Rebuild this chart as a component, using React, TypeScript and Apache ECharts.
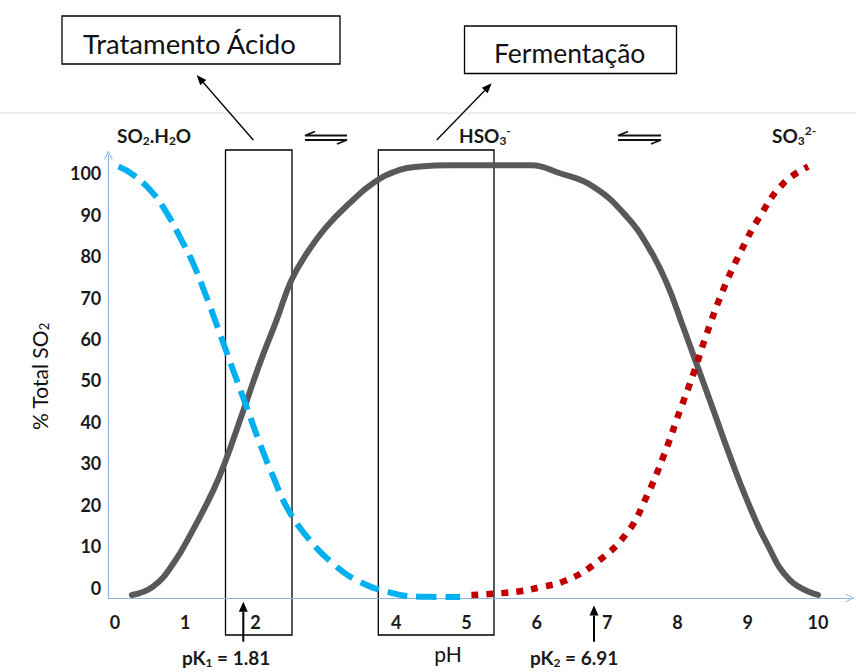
import React, { useEffect, useRef } from "react";
import * as echarts from "echarts";

// Tick labels (the "3" label is absent in the reference)
const xTickValues = [0, 1, 2, 4, 5, 6, 7, 8, 9, 10];
const yTickValues = [0, 10, 20, 30, 40, 50, 60, 70, 80, 90, 100];

// pH vs % of total SO2
const so2H2O: [number, number][] = [
  [0.05, 101.6], [0.26, 99.6], [0.54, 95.2], [0.74, 90.3], [0.92, 84.7],
  [1.11, 78.3], [1.3, 70.2], [1.49, 61.4], [1.68, 52.5], [1.87, 43.7],
  [2.06, 34.8], [2.25, 26.8], [2.44, 19.5], [2.73, 12.3], [3.1, 5.8],
  [3.48, 1.4], [3.96, -1.4], [4.34, -2.2], [4.91, -2.3],
];

const hso3: [number, number][] = [
  [0.24, -1.8], [0.54, 0.2], [0.83, 5.8], [1.11, 13.9], [1.4, 23.5],
  [1.56, 30.0], [1.83, 42.9], [2.06, 54.1], [2.3, 64.6], [2.51, 74.2],
  [2.73, 80.7], [3.01, 87.1], [3.34, 92.8], [3.67, 97.6], [4.05, 100.8],
  [4.34, 101.6], [4.77, 101.9], [5.9, 101.9], [6.33, 100.0], [6.8, 96.8],
  [7.28, 89.5], [7.61, 81.5], [7.85, 73.4], [8.08, 63.0], [8.27, 54.1],
  [8.51, 42.9], [8.75, 31.6], [8.99, 21.1], [9.27, 10.7], [9.6, 1.8],
  [10.0, -1.8],
];

const so3: [number, number][] = [
  [5.07, -1.8], [5.71, -1.0], [6.09, 0.2], [6.4, 1.6], [6.8, 5.4],
  [7.28, 13.1], [7.56, 21.9], [7.8, 31.6], [8.04, 42.9], [8.23, 51.7],
  [8.42, 61.4], [8.65, 71.8], [8.89, 80.7], [9.17, 89.5], [9.51, 97.6],
  [9.86, 101.6],
];

const FONT = "Lato, 'Open Sans', sans-serif";

const subRich = {
  n: { fontSize: 19, fontWeight: "bold", fontFamily: FONT, fill: "#1a1a1a", color: "#1a1a1a", lineHeight: 20, verticalAlign: "middle" },
  s: { fontSize: 12, fontWeight: "bold", fontFamily: FONT, fill: "#1a1a1a", color: "#1a1a1a", lineHeight: 12, padding: [10, 0, 0, 0], verticalAlign: "middle" },
  u: { fontSize: 12, fontWeight: "bold", fontFamily: FONT, fill: "#1a1a1a", color: "#1a1a1a", lineHeight: 12, padding: [0, 0, 10, 0], verticalAlign: "middle" },
};

function arrowHead(tip: [number, number], tail: [number, number], len: number, half: number) {
  const dx = tip[0] - tail[0];
  const dy = tip[1] - tail[1];
  const L = Math.hypot(dx, dy);
  const ux = dx / L, uy = dy / L;
  const bx = tip[0] - len * ux, by = tip[1] - len * uy;
  const nx = -uy, ny = ux;
  return {
    base: [bx, by] as [number, number],
    pts: [tip, [bx + half * nx, by + half * ny], [bx - half * nx, by - half * ny]],
  };
}

function arrow(tail: [number, number], tip: [number, number], width: number, len: number, half: number) {
  const h = arrowHead(tip, tail, len, half);
  return [
    { type: "line", shape: { x1: tail[0], y1: tail[1], x2: h.base[0], y2: h.base[1] }, style: { stroke: "#000", lineWidth: width } },
    { type: "polygon", shape: { points: h.pts }, style: { fill: "#000" } },
  ];
}

function harpoons(x1: number, x2: number) {
  return [
    { type: "polyline", shape: { points: [[x1 + 10, 131.5], [x1, 135.5], [x2, 135.5]] }, style: { stroke: "#111", lineWidth: 1.8, fill: null } },
    { type: "polyline", shape: { points: [[x1, 140], [x2, 140], [x2 - 10, 144]] }, style: { stroke: "#111", lineWidth: 1.8, fill: null } },
  ];
}

export default function App() {
  const ref = useRef<HTMLDivElement>(null);

  useEffect(() => {
    if (!ref.current) return;
    const chart = echarts.init(ref.current, null, { renderer: "svg" });
    const axisColor = "#8db3e2";
    const chevron = "path://M0,10 L5,0 L10,10 L8.8,10 L5,2.4 L1.2,10 Z";

    const graphic: any[] = [
      { type: "line", shape: { x1: 0, y1: 113, x2: 856, y2: 113 }, style: { stroke: "#dcdcdc", lineWidth: 1 } },
      { type: "rect", shape: { x: 62, y: 16, width: 278, height: 48 }, style: { fill: "#fff", stroke: "#000", lineWidth: 1.3 } },
      { type: "text", x: 83, y: 43, style: { text: "Tratamento Ácido", fontSize: 27.5, fontFamily: FONT, fill: "#111", textAlign: "left", textVerticalAlign: "middle" } },
      { type: "rect", shape: { x: 464.5, y: 26, width: 212, height: 47.5 }, style: { fill: "#fff", stroke: "#000", lineWidth: 1.3 } },
      { type: "text", x: 494, y: 53, style: { text: "Fermentação", fontSize: 26.5, fontFamily: FONT, fill: "#111", textAlign: "left", textVerticalAlign: "middle" } },
      ...arrow([253.3, 140], [196.7, 75], 1.3, 10, 4),
      ...arrow([436.7, 140], [491.7, 83.3], 1.3, 10, 4),
      { type: "text", x: 117, y: 135, style: { text: "{n|SO}{s|2}{n|.H}{s|2}{n|O}", rich: subRich, textAlign: "left", textVerticalAlign: "middle" } },
      { type: "text", x: 459, y: 135, style: { text: "{n|HSO}{s|3}{u|-}", rich: subRich, textAlign: "left", textVerticalAlign: "middle" } },
      { type: "text", x: 772, y: 135, style: { text: "{n|SO}{s|3}{u|2-}", rich: subRich, textAlign: "left", textVerticalAlign: "middle" } },
      ...harpoons(305, 347),
      ...harpoons(618, 661),
      { type: "rect", shape: { x: 225.5, y: 150, width: 66.5, height: 485 }, style: { fill: null, stroke: "#000", lineWidth: 1.3 } },
      { type: "rect", shape: { x: 378.3, y: 150, width: 115.7, height: 485 }, style: { fill: null, stroke: "#000", lineWidth: 1.3 } },
      ...arrow([243.3, 641.7], [243.3, 601.7], 2, 10, 4.5),
      ...arrow([594, 641.7], [594, 605.5], 2, 10, 4.5),
      { type: "text", x: 182, y: 657, style: { text: "{n|pK}{s|1}{n| = 1.81}", rich: subRich, textAlign: "left", textVerticalAlign: "middle" } },
      { type: "text", x: 530, y: 657, style: { text: "{n|pK}{s|2}{n| = 6.91}", rich: subRich, textAlign: "left", textVerticalAlign: "middle" } },
      { type: "text", x: 448, y: 653, style: { text: "pH", fontSize: 21, fontFamily: FONT, fill: "#111", textAlign: "center", textVerticalAlign: "middle" } },
    ];

    chart.setOption({
      animation: false,
      backgroundColor: "#ffffff",
      grid: { left: 108.3, right: 6, top: 155, bottom: 74, outerBoundsMode: "none", containLabel: false },
      xAxis: {
        type: "value",
        min: -0.095,
        max: 10.455,
        axisLine: { show: true, onZero: false, lineStyle: { color: axisColor, width: 1.2 }, symbol: ["none", chevron], symbolSize: [9, 9] },
        axisTick: { show: false },
        splitLine: { show: false },
        axisLabel: { customValues: xTickValues, margin: 15, fontSize: 18, fontWeight: "bold", fontFamily: FONT, color: "#1a1a1a" },
      },
      yAxis: {
        type: "value",
        min: -2.53,
        max: 104.4,
        name: "% Total SO{s|2}",
        nameLocation: "middle",
        nameRotate: 90,
        nameGap: 58,
        nameTextStyle: {
          fontSize: 21, fontFamily: FONT, color: "#111",
          rich: { s: { fontSize: 13, fontFamily: FONT, color: "#111", padding: [9, 0, 0, 0] } },
        },
        axisLine: { show: true, onZero: false, lineStyle: { color: axisColor, width: 1.2 }, symbol: ["none", chevron], symbolSize: [9, 9] },
        axisTick: { show: false },
        splitLine: { show: false },
        axisLabel: { customValues: yTickValues, margin: 7, fontSize: 18, fontWeight: "bold", fontFamily: FONT, color: "#1a1a1a" },
      },
      series: [
        {
          name: "HSO3-", type: "line", data: hso3, smooth: 0.45, showSymbol: false, z: 2,
          lineStyle: { color: "#595959", width: 6, cap: "round" },
        },
        {
          name: "SO2.H2O", type: "line", data: so2H2O, smooth: 0.45, showSymbol: false, z: 3,
          lineStyle: { color: "#00b0f0", width: 6, type: [20, 9], cap: "butt" },
        },
        {
          name: "SO3 2-", type: "line", data: so3, smooth: 0.45, showSymbol: false, z: 3,
          lineStyle: { color: "#c00000", width: 6.5, type: [7, 8], cap: "butt" },
        },
      ],
      graphic,
    });

    return () => chart.dispose();
  }, []);

  return <div ref={ref} style={{ position: "fixed", left: 0, top: 0, width: 856, height: 672 }} />;
}
